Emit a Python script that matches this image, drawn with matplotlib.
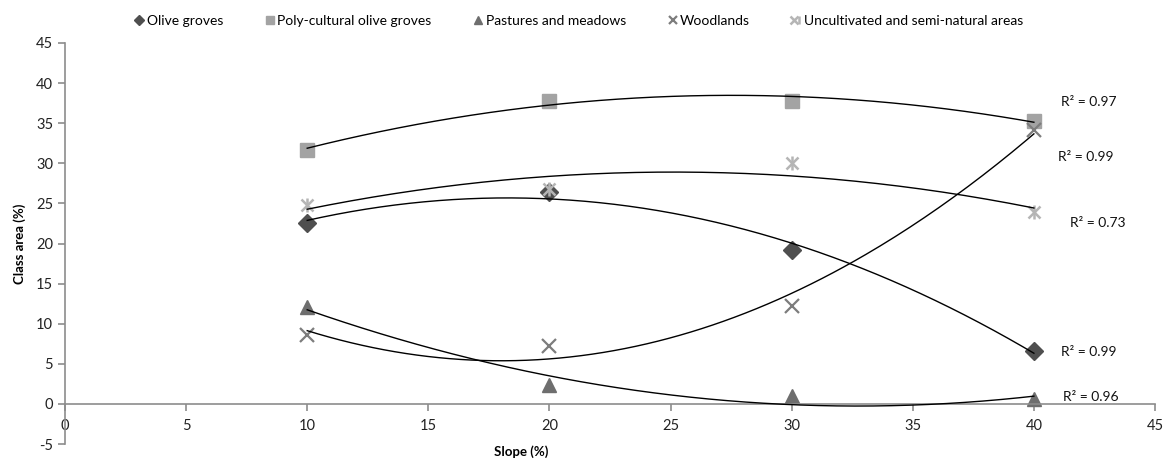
import numpy as np
import matplotlib
matplotlib.use("Agg")
import matplotlib.pyplot as plt
from matplotlib.legend_handler import HandlerTuple

plt.rcParams['font.family'] = ['Lato', 'DejaVu Sans']
plt.rcParams['axes.unicode_minus'] = False

slope = [10, 20, 30, 40]
olive = [22.6, 26.4, 19.2, 6.6]
poly = [31.7, 37.8, 37.8, 35.3]
pastures = [12.1, 2.4, 1.0, 0.6]
woodlands = [8.6, 7.2, 12.2, 34.2]
uncult = [24.8, 26.8, 30.0, 23.9]

names = ["Olive groves", "Poly-cultural olive groves", "Pastures and meadows",
         "Woodlands", "Uncultivated and semi-natural areas"]
r2_labels = ["R\u00b2 = 0.99", "R\u00b2 = 0.97", "R\u00b2 = 0.96", "R\u00b2 = 0.99", "R\u00b2 = 0.73"]
r2_pos = [(41.1, 6.5), (41.1, 37.7), (41.2, 0.9), (41.0, 30.8), (41.5, 22.6)]

xticks = list(range(0, 50, 5))
yticks = list(range(-5, 50, 5))

fig = plt.figure(figsize=(11.69, 4.62), dpi=100)
ax = fig.add_axes([65/1169, 1-444/462, (1155-65)/1169, (444-43)/462])

series = [olive, poly, pastures, woodlands, uncult]
styles = [
    dict(marker='D', color='#4f4f4f', ms=9),
    dict(marker='s', color='#a3a3a3', ms=10.5),
    dict(marker='^', color='#6e6e6e', ms=10.5),
    dict(marker='x', color='#7d7d7d', ms=10, mew=1.6),
    dict(marker='x', color='#b5b5b5', ms=9, mew=1.8),
]

xs = np.linspace(slope[0], slope[-1], 200)
handles = []
for ys, st in zip(series, styles):
    c = np.polyfit(slope, ys, 2)
    ax.plot(xs, np.polyval(c, xs), color='black', lw=1.0, zorder=3)
for i, (ys, st) in enumerate(zip(series, styles)):
    h, = ax.plot(slope, ys, ls='none', marker=st['marker'], color=st['color'],
                 ms=st['ms'], mew=st.get('mew', 1), zorder=2)
    if i == 4:
        h2, = ax.plot(slope, ys, ls='none', marker='|', color=st['color'],
                      ms=st['ms'] + 1, mew=1.8, zorder=2)
        handles.append((h, h2))
    else:
        handles.append(h)

for lab, (x, y) in zip(r2_labels, r2_pos):
    ax.text(x, y, lab, ha='left', va='center', fontsize=10, color='#111111')

ax.set_xlim(0, 45)
ax.set_ylim(-5, 45)
ax.set_xticks(xticks)
ax.set_yticks(yticks)
ax.spines['top'].set_visible(False)
ax.spines['right'].set_visible(False)
ax.spines['bottom'].set_position(('data', 0))
for s in ['left', 'bottom']:
    ax.spines[s].set_color('#8c8c8c')
    ax.spines[s].set_linewidth(1.2)
ax.tick_params(axis='both', colors='#8c8c8c', length=5, width=1.2,
               labelcolor='#222222', labelsize=10.5)
ax.tick_params(axis='x', pad=6)
ax.set_ylabel('Class area (%)', fontsize=9.5, fontweight='bold', labelpad=7)
fig.text(521/1169, 1-452/462, 'Slope (%)', ha='center', va='center',
         fontsize=9.5, fontweight='bold')

leg = fig.legend(handles, names, loc='center', bbox_to_anchor=(579/1169, 1-21/462),
                 ncol=5, frameon=False, fontsize=10, handlelength=0.7,
                 handletextpad=0.2, columnspacing=3.0, markerscale=0.6,
                 handler_map={tuple: HandlerTuple(ndivide=None, pad=0)})

fig.savefig('out.png', dpi=100)
